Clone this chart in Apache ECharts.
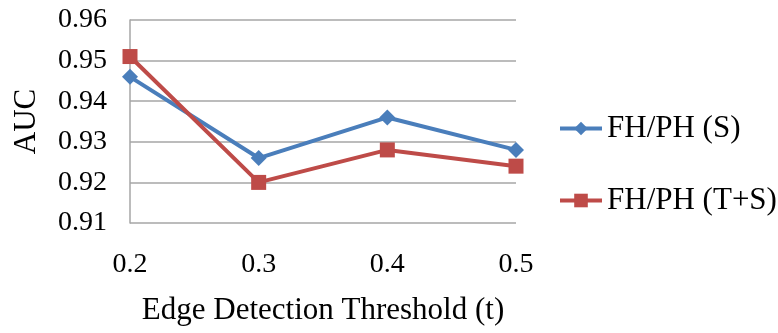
<!DOCTYPE html>
<html>
<head>
<meta charset="utf-8">
<script src="https://cdn.jsdelivr.net/npm/echarts@6/dist/echarts.min.js"></script>
<style>
  html, body { margin: 0; padding: 0; background: #fff; }
  #chart { width: 778px; height: 333px; }
</style>
</head>
<body>
<div id="chart"></div>
<script>
var thresholds = ['0.2', '0.3', '0.4', '0.5'];
var aucS = [0.946, 0.926, 0.936, 0.928];
var aucTS = [0.951, 0.920, 0.928, 0.924];

var font = 'Liberation Serif';
var chart = echarts.init(document.getElementById('chart'));

var option = {
  animation: false,
  grid: {
    left: 130,
    right: 262,
    top: 20,
    bottom: 110
  },
  legend: {
    orient: 'vertical',
    left: 553,
    top: 108,
    itemGap: 41,
    itemWidth: 42,
    itemHeight: 17,
    lineStyle: { width: 4 },
    textStyle: {
      fontFamily: font,
      fontSize: 31,
      color: '#000'
    },
    data: ['FH/PH (S)', 'FH/PH (T+S)']
  },
  xAxis: {
    type: 'category',
    boundaryGap: false,
    data: thresholds,
    name: 'Edge Detection Threshold (t)',
    nameLocation: 'middle',
    nameGap: 72,
    nameTextStyle: { fontFamily: font, fontSize: 31, color: '#000' },
    axisLine: { show: false },
    axisTick: { show: false },
    axisLabel: { fontFamily: font, fontSize: 28, color: '#000', margin: 28 }
  },
  yAxis: {
    type: 'value',
    min: 0.91,
    max: 0.96,
    interval: 0.01,
    name: 'AUC',
    nameLocation: 'middle',
    nameGap: 88,
    nameTextStyle: { fontFamily: font, fontSize: 31, color: '#000' },
    axisLine: { show: true, lineStyle: { color: '#a6a6a6', width: 1.5 } },
    axisTick: { show: false },
    splitLine: { lineStyle: { color: '#a6a6a6', width: 1.5 } },
    axisLabel: {
      fontFamily: font, fontSize: 28, color: '#000', margin: 23,
      formatter: function(v) { return v.toFixed(2); }
    }
  },
  series: [{
    name: 'FH/PH (S)',
    type: 'line',
    data: aucS,
    symbol: 'diamond',
    symbolSize: 16,
    color: '#4a7ebb',
    lineStyle: { width: 4 }
  }, {
    name: 'FH/PH (T+S)',
    type: 'line',
    data: aucTS,
    symbol: 'rect',
    symbolSize: 15,
    color: '#be4b48',
    lineStyle: { width: 4 }
  }]
};

chart.setOption(option);
</script>
</body>
</html>
